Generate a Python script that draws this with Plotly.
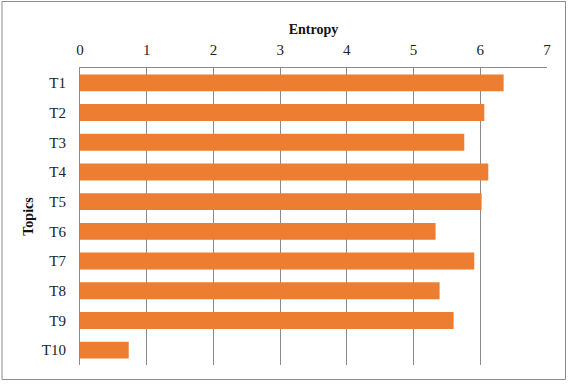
import plotly.graph_objects as go

topics = ["T1", "T2", "T3", "T4", "T5", "T6", "T7", "T8", "T9", "T10"]
entropy = [6.35, 6.06, 5.76, 6.12, 6.02, 5.33, 5.91, 5.39, 5.60, 0.73]
x_ticks = [0, 1, 2, 3, 4, 5, 6, 7]

font_family = "Liberation Serif, Times New Roman, serif"

fig = go.Figure(go.Bar(
    x=entropy, y=topics, orientation="h",
    marker=dict(color="#ED7D31", line=dict(width=0)),
    hoverinfo="x+y",
))

L, R, T, B = 80, 24, 68, 19
W, H = 571, 384
pw, ph = W - L - R, H - T - B

fig.update_layout(
    width=W, height=H,
    margin=dict(l=L, r=R, t=T, b=B, autoexpand=False),
    plot_bgcolor="white", paper_bgcolor="white",
    bargap=0.43,
    showlegend=False,
    font=dict(family=font_family, size=15, color="#222222"),
    xaxis=dict(
        side="top", range=[0, 7], tickvals=x_ticks,
        showgrid=True, gridcolor="#8a8a8a", gridwidth=1,
        showline=True, linecolor="#8a8a8a", linewidth=1,
        zeroline=False, ticks="", ticklen=0, ticklabelstandoff=6,
        title=dict(text="<b>Entropy</b>", font=dict(size=14, color="#111111"), standoff=4),
        fixedrange=True, automargin=False,
    ),
    yaxis=dict(
        autorange="reversed",
        showline=True, linecolor="#8a8a8a", linewidth=1,
        showgrid=False, ticks="", ticklen=0, ticklabelstandoff=10,
        title=dict(text="<b>Topics</b>", font=dict(size=14, color="#111111"), standoff=4),
        fixedrange=True, automargin=False,
    ),
    shapes=[dict(
        type="rect", xref="paper", yref="paper",
        x0=(2 - L) / pw, x1=(565.5 - L) / pw,
        y0=(H - B - 379.5) / ph, y1=(H - B - 1.5) / ph,
        line=dict(color="#8c8c8c", width=1), fillcolor="rgba(0,0,0,0)",
        layer="below",
    )],
)

pin_js = (
    "document.body.style.margin='0';"
    "var gd=document.getElementById('{plot_id}');"
    "gd.style.position='fixed';gd.style.left='0px';gd.style.top='0px';"
)

fig.write_html("out.html", post_script=pin_js, config={"displayModeBar": False})
